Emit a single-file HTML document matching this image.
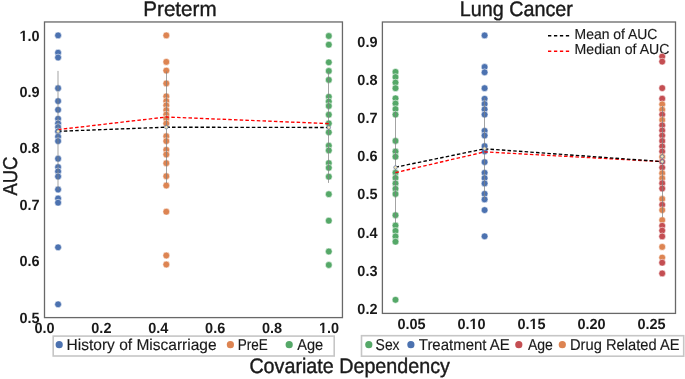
<!DOCTYPE html>
<html><head><meta charset="utf-8"><title>AUC vs Covariate Dependency</title><style>
html,body{margin:0;padding:0;background:#fff;width:685px;height:379px;overflow:hidden}
svg{display:block;font-family:"Liberation Sans", sans-serif;will-change:transform;text-rendering:geometricPrecision}
text{fill:#1a1a1a}
text.r{stroke:#1a1a1a;stroke-width:0.4px}
text.r2{stroke:#1a1a1a;stroke-width:0.15px}
</style></head><body>
<svg width="685" height="379" viewBox="0 0 685 379">
<rect x="44.5" y="21.96" width="297.95" height="295.64" fill="none" stroke="#686868" stroke-width="1.3"/>
<rect x="382.4" y="22.0" width="293.10" height="291.40" fill="none" stroke="#686868" stroke-width="1.3"/>
<line x1="548" y1="35.8" x2="569.2" y2="35.8" stroke="#000" stroke-width="1.4" stroke-dasharray="3.3 2.65"/>
<line x1="548" y1="51.3" x2="569.2" y2="51.3" stroke="#ff0000" stroke-width="1.4" stroke-dasharray="3.3 2.65"/>
<text x="574.6" y="38.9" font-size="14.5" textLength="82.8" lengthAdjust="spacingAndGlyphs" class="r2">Mean of AUC</text>
<text x="574.6" y="54.3" font-size="14.5" textLength="94.8" lengthAdjust="spacingAndGlyphs" class="r2">Median of AUC</text>
<circle cx="58.1" cy="35.4" r="3.4" fill="#4c72b0" stroke="#fff" stroke-width="0.55"/><circle cx="58.1" cy="52.7" r="3.4" fill="#4c72b0" stroke="#fff" stroke-width="0.55"/><circle cx="58.1" cy="57.5" r="3.4" fill="#4c72b0" stroke="#fff" stroke-width="0.55"/><circle cx="58.1" cy="88.2" r="3.4" fill="#4c72b0" stroke="#fff" stroke-width="0.55"/><circle cx="58.1" cy="101.1" r="3.4" fill="#4c72b0" stroke="#fff" stroke-width="0.55"/><circle cx="58.1" cy="109.8" r="3.4" fill="#4c72b0" stroke="#fff" stroke-width="0.55"/><circle cx="58.1" cy="118.8" r="3.4" fill="#4c72b0" stroke="#fff" stroke-width="0.55"/><circle cx="58.1" cy="123.4" r="3.4" fill="#4c72b0" stroke="#fff" stroke-width="0.55"/><circle cx="58.1" cy="127.1" r="3.4" fill="#4c72b0" stroke="#fff" stroke-width="0.55"/><circle cx="58.1" cy="131.4" r="3.4" fill="#4c72b0" stroke="#fff" stroke-width="0.55"/><circle cx="58.1" cy="136.7" r="3.4" fill="#4c72b0" stroke="#fff" stroke-width="0.55"/><circle cx="58.1" cy="141.1" r="3.4" fill="#4c72b0" stroke="#fff" stroke-width="0.55"/><circle cx="58.1" cy="158.7" r="3.4" fill="#4c72b0" stroke="#fff" stroke-width="0.55"/><circle cx="58.1" cy="167.1" r="3.4" fill="#4c72b0" stroke="#fff" stroke-width="0.55"/><circle cx="58.1" cy="171.4" r="3.4" fill="#4c72b0" stroke="#fff" stroke-width="0.55"/><circle cx="58.1" cy="176.5" r="3.4" fill="#4c72b0" stroke="#fff" stroke-width="0.55"/><circle cx="58.1" cy="189.5" r="3.4" fill="#4c72b0" stroke="#fff" stroke-width="0.55"/><circle cx="58.1" cy="198.5" r="3.4" fill="#4c72b0" stroke="#fff" stroke-width="0.55"/><circle cx="58.1" cy="202.7" r="3.4" fill="#4c72b0" stroke="#fff" stroke-width="0.55"/><circle cx="58.1" cy="247.3" r="3.4" fill="#4c72b0" stroke="#fff" stroke-width="0.55"/><circle cx="58.1" cy="304.3" r="3.4" fill="#4c72b0" stroke="#fff" stroke-width="0.55"/>
<circle cx="166.3" cy="35.4" r="3.4" fill="#dd8452" stroke="#fff" stroke-width="0.55"/><circle cx="166.3" cy="61.9" r="3.4" fill="#dd8452" stroke="#fff" stroke-width="0.55"/><circle cx="166.3" cy="70.6" r="3.4" fill="#dd8452" stroke="#fff" stroke-width="0.55"/><circle cx="166.3" cy="83.4" r="3.4" fill="#dd8452" stroke="#fff" stroke-width="0.55"/><circle cx="166.3" cy="96.3" r="3.4" fill="#dd8452" stroke="#fff" stroke-width="0.55"/><circle cx="166.3" cy="101.1" r="3.4" fill="#dd8452" stroke="#fff" stroke-width="0.55"/><circle cx="166.3" cy="105.3" r="3.4" fill="#dd8452" stroke="#fff" stroke-width="0.55"/><circle cx="166.3" cy="110.1" r="3.4" fill="#dd8452" stroke="#fff" stroke-width="0.55"/><circle cx="166.3" cy="114.5" r="3.4" fill="#dd8452" stroke="#fff" stroke-width="0.55"/><circle cx="166.3" cy="118.8" r="3.4" fill="#dd8452" stroke="#fff" stroke-width="0.55"/><circle cx="166.3" cy="123.5" r="3.4" fill="#dd8452" stroke="#fff" stroke-width="0.55"/><circle cx="166.3" cy="136.2" r="3.4" fill="#dd8452" stroke="#fff" stroke-width="0.55"/><circle cx="166.3" cy="141.1" r="3.4" fill="#dd8452" stroke="#fff" stroke-width="0.55"/><circle cx="166.3" cy="149.8" r="3.4" fill="#dd8452" stroke="#fff" stroke-width="0.55"/><circle cx="166.3" cy="154.5" r="3.4" fill="#dd8452" stroke="#fff" stroke-width="0.55"/><circle cx="166.3" cy="163.2" r="3.4" fill="#dd8452" stroke="#fff" stroke-width="0.55"/><circle cx="166.3" cy="176.2" r="3.4" fill="#dd8452" stroke="#fff" stroke-width="0.55"/><circle cx="166.3" cy="185.5" r="3.4" fill="#dd8452" stroke="#fff" stroke-width="0.55"/><circle cx="166.3" cy="211.7" r="3.4" fill="#dd8452" stroke="#fff" stroke-width="0.55"/><circle cx="166.3" cy="255.5" r="3.4" fill="#dd8452" stroke="#fff" stroke-width="0.55"/><circle cx="166.3" cy="264.5" r="3.4" fill="#dd8452" stroke="#fff" stroke-width="0.55"/>
<circle cx="328.8" cy="36.0" r="3.4" fill="#55a868" stroke="#fff" stroke-width="0.55"/><circle cx="328.8" cy="44.699999999999996" r="3.4" fill="#55a868" stroke="#fff" stroke-width="0.55"/><circle cx="328.8" cy="62.3" r="3.4" fill="#55a868" stroke="#fff" stroke-width="0.55"/><circle cx="328.8" cy="71.0" r="3.4" fill="#55a868" stroke="#fff" stroke-width="0.55"/><circle cx="328.8" cy="79.9" r="3.4" fill="#55a868" stroke="#fff" stroke-width="0.55"/><circle cx="328.8" cy="96.80000000000001" r="3.4" fill="#55a868" stroke="#fff" stroke-width="0.55"/><circle cx="328.8" cy="101.5" r="3.4" fill="#55a868" stroke="#fff" stroke-width="0.55"/><circle cx="328.8" cy="106.0" r="3.4" fill="#55a868" stroke="#fff" stroke-width="0.55"/><circle cx="328.8" cy="114.7" r="3.4" fill="#55a868" stroke="#fff" stroke-width="0.55"/><circle cx="328.8" cy="123.4" r="3.4" fill="#55a868" stroke="#fff" stroke-width="0.55"/><circle cx="328.8" cy="132.3" r="3.4" fill="#55a868" stroke="#fff" stroke-width="0.55"/><circle cx="328.8" cy="145.70000000000002" r="3.4" fill="#55a868" stroke="#fff" stroke-width="0.55"/><circle cx="328.8" cy="150.4" r="3.4" fill="#55a868" stroke="#fff" stroke-width="0.55"/><circle cx="328.8" cy="163.1" r="3.4" fill="#55a868" stroke="#fff" stroke-width="0.55"/><circle cx="328.8" cy="167.8" r="3.4" fill="#55a868" stroke="#fff" stroke-width="0.55"/><circle cx="328.8" cy="176.70000000000002" r="3.4" fill="#55a868" stroke="#fff" stroke-width="0.55"/><circle cx="328.8" cy="194.20000000000002" r="3.4" fill="#55a868" stroke="#fff" stroke-width="0.55"/><circle cx="328.8" cy="220.70000000000002" r="3.4" fill="#55a868" stroke="#fff" stroke-width="0.55"/><circle cx="328.8" cy="251.5" r="3.4" fill="#55a868" stroke="#fff" stroke-width="0.55"/><circle cx="328.8" cy="265.0" r="3.4" fill="#55a868" stroke="#fff" stroke-width="0.55"/>
<circle cx="395.5" cy="71.9" r="3.4" fill="#55a868" stroke="#fff" stroke-width="0.55"/><circle cx="395.5" cy="77.1" r="3.4" fill="#55a868" stroke="#fff" stroke-width="0.55"/><circle cx="395.5" cy="82.6" r="3.4" fill="#55a868" stroke="#fff" stroke-width="0.55"/><circle cx="395.5" cy="88.2" r="3.4" fill="#55a868" stroke="#fff" stroke-width="0.55"/><circle cx="395.5" cy="98.3" r="3.4" fill="#55a868" stroke="#fff" stroke-width="0.55"/><circle cx="395.5" cy="103.5" r="3.4" fill="#55a868" stroke="#fff" stroke-width="0.55"/><circle cx="395.5" cy="109.1" r="3.4" fill="#55a868" stroke="#fff" stroke-width="0.55"/><circle cx="395.5" cy="114.6" r="3.4" fill="#55a868" stroke="#fff" stroke-width="0.55"/><circle cx="395.5" cy="140.9" r="3.4" fill="#55a868" stroke="#fff" stroke-width="0.55"/><circle cx="395.5" cy="151.5" r="3.4" fill="#55a868" stroke="#fff" stroke-width="0.55"/><circle cx="395.5" cy="156.7" r="3.4" fill="#55a868" stroke="#fff" stroke-width="0.55"/><circle cx="395.5" cy="172.7" r="3.4" fill="#55a868" stroke="#fff" stroke-width="0.55"/><circle cx="395.5" cy="177.9" r="3.4" fill="#55a868" stroke="#fff" stroke-width="0.55"/><circle cx="395.5" cy="183.4" r="3.4" fill="#55a868" stroke="#fff" stroke-width="0.55"/><circle cx="395.5" cy="188.8" r="3.4" fill="#55a868" stroke="#fff" stroke-width="0.55"/><circle cx="395.5" cy="194" r="3.4" fill="#55a868" stroke="#fff" stroke-width="0.55"/><circle cx="395.5" cy="215.2" r="3.4" fill="#55a868" stroke="#fff" stroke-width="0.55"/><circle cx="395.5" cy="225.5" r="3.4" fill="#55a868" stroke="#fff" stroke-width="0.55"/><circle cx="395.5" cy="230.9" r="3.4" fill="#55a868" stroke="#fff" stroke-width="0.55"/><circle cx="395.5" cy="236.4" r="3.4" fill="#55a868" stroke="#fff" stroke-width="0.55"/><circle cx="395.5" cy="241.7" r="3.4" fill="#55a868" stroke="#fff" stroke-width="0.55"/><circle cx="395.5" cy="299.8" r="3.4" fill="#55a868" stroke="#fff" stroke-width="0.55"/>
<circle cx="484.6" cy="35.4" r="3.4" fill="#4c72b0" stroke="#fff" stroke-width="0.55"/><circle cx="484.6" cy="67" r="3.4" fill="#4c72b0" stroke="#fff" stroke-width="0.55"/><circle cx="484.6" cy="72.3" r="3.4" fill="#4c72b0" stroke="#fff" stroke-width="0.55"/><circle cx="484.6" cy="88.2" r="3.4" fill="#4c72b0" stroke="#fff" stroke-width="0.55"/><circle cx="484.6" cy="98.8" r="3.4" fill="#4c72b0" stroke="#fff" stroke-width="0.55"/><circle cx="484.6" cy="104" r="3.4" fill="#4c72b0" stroke="#fff" stroke-width="0.55"/><circle cx="484.6" cy="109.3" r="3.4" fill="#4c72b0" stroke="#fff" stroke-width="0.55"/><circle cx="484.6" cy="114.6" r="3.4" fill="#4c72b0" stroke="#fff" stroke-width="0.55"/><circle cx="484.6" cy="130.8" r="3.4" fill="#4c72b0" stroke="#fff" stroke-width="0.55"/><circle cx="484.6" cy="135.5" r="3.4" fill="#4c72b0" stroke="#fff" stroke-width="0.55"/><circle cx="484.6" cy="146.1" r="3.4" fill="#4c72b0" stroke="#fff" stroke-width="0.55"/><circle cx="484.6" cy="151.3" r="3.4" fill="#4c72b0" stroke="#fff" stroke-width="0.55"/><circle cx="484.6" cy="162.1" r="3.4" fill="#4c72b0" stroke="#fff" stroke-width="0.55"/><circle cx="484.6" cy="172.8" r="3.4" fill="#4c72b0" stroke="#fff" stroke-width="0.55"/><circle cx="484.6" cy="178.1" r="3.4" fill="#4c72b0" stroke="#fff" stroke-width="0.55"/><circle cx="484.6" cy="183.4" r="3.4" fill="#4c72b0" stroke="#fff" stroke-width="0.55"/><circle cx="484.6" cy="193.8" r="3.4" fill="#4c72b0" stroke="#fff" stroke-width="0.55"/><circle cx="484.6" cy="199.4" r="3.4" fill="#4c72b0" stroke="#fff" stroke-width="0.55"/><circle cx="484.6" cy="210.1" r="3.4" fill="#4c72b0" stroke="#fff" stroke-width="0.55"/><circle cx="484.6" cy="236.3" r="3.4" fill="#4c72b0" stroke="#fff" stroke-width="0.55"/>
<circle cx="662.2" cy="56.6" r="3.4" fill="#c44e52" stroke="#fff" stroke-width="0.55"/><circle cx="662.2" cy="61.6" r="3.4" fill="#c44e52" stroke="#fff" stroke-width="0.55"/><circle cx="662.2" cy="88.1" r="3.4" fill="#c44e52" stroke="#fff" stroke-width="0.55"/><circle cx="662.2" cy="98.7" r="3.4" fill="#c44e52" stroke="#fff" stroke-width="0.55"/><circle cx="662.2" cy="104.3" r="3.4" fill="#dd8452" stroke="#fff" stroke-width="0.55"/><circle cx="662.2" cy="109.7" r="3.4" fill="#dd8452" stroke="#fff" stroke-width="0.55"/><circle cx="662.2" cy="114.6" r="3.4" fill="#c44e52" stroke="#fff" stroke-width="0.55"/><circle cx="662.2" cy="120" r="3.4" fill="#dd8452" stroke="#fff" stroke-width="0.55"/><circle cx="662.2" cy="125.3" r="3.4" fill="#c44e52" stroke="#fff" stroke-width="0.55"/><circle cx="662.2" cy="130.5" r="3.4" fill="#c44e52" stroke="#fff" stroke-width="0.55"/><circle cx="662.2" cy="135.6" r="3.4" fill="#c44e52" stroke="#fff" stroke-width="0.55"/><circle cx="662.2" cy="141" r="3.4" fill="#c44e52" stroke="#fff" stroke-width="0.55"/><circle cx="662.2" cy="146.4" r="3.4" fill="#c44e52" stroke="#fff" stroke-width="0.55"/><circle cx="662.2" cy="151.5" r="3.4" fill="#c44e52" stroke="#fff" stroke-width="0.55"/><circle cx="662.2" cy="156.9" r="3.4" fill="#dd8452" stroke="#fff" stroke-width="0.55"/><circle cx="662.2" cy="161.8" r="3.4" fill="#c44e52" stroke="#fff" stroke-width="0.55"/><circle cx="662.2" cy="167.6" r="3.4" fill="#c44e52" stroke="#fff" stroke-width="0.55"/><circle cx="662.2" cy="173.2" r="3.4" fill="#dd8452" stroke="#fff" stroke-width="0.55"/><circle cx="662.2" cy="178.2" r="3.4" fill="#dd8452" stroke="#fff" stroke-width="0.55"/><circle cx="662.2" cy="183.2" r="3.4" fill="#c44e52" stroke="#fff" stroke-width="0.55"/><circle cx="662.2" cy="188.5" r="3.4" fill="#c44e52" stroke="#fff" stroke-width="0.55"/><circle cx="662.2" cy="199" r="3.4" fill="#dd8452" stroke="#fff" stroke-width="0.55"/><circle cx="662.2" cy="204.8" r="3.4" fill="#c44e52" stroke="#fff" stroke-width="0.55"/><circle cx="662.2" cy="210.1" r="3.4" fill="#dd8452" stroke="#fff" stroke-width="0.55"/><circle cx="662.2" cy="220.1" r="3.4" fill="#dd8452" stroke="#fff" stroke-width="0.55"/><circle cx="662.2" cy="225.8" r="3.4" fill="#c44e52" stroke="#fff" stroke-width="0.55"/><circle cx="662.2" cy="230.6" r="3.4" fill="#c44e52" stroke="#fff" stroke-width="0.55"/><circle cx="662.2" cy="236.4" r="3.4" fill="#c44e52" stroke="#fff" stroke-width="0.55"/><circle cx="662.2" cy="246.9" r="3.4" fill="#dd8452" stroke="#fff" stroke-width="0.55"/><circle cx="662.2" cy="257.6" r="3.4" fill="#dd8452" stroke="#fff" stroke-width="0.55"/><circle cx="662.2" cy="262.7" r="3.4" fill="#c44e52" stroke="#fff" stroke-width="0.55"/><circle cx="662.2" cy="273.4" r="3.4" fill="#c44e52" stroke="#fff" stroke-width="0.55"/>
<line x1="58.0" y1="70.9" x2="58.0" y2="190" stroke="#808080" stroke-opacity="0.72" stroke-width="1.0"/>
<line x1="166.5" y1="71.5" x2="166.5" y2="183" stroke="#808080" stroke-opacity="0.72" stroke-width="1.0"/>
<line x1="328.5" y1="71.7" x2="328.5" y2="182.9" stroke="#808080" stroke-opacity="0.72" stroke-width="1.0"/>
<line x1="395.5" y1="111.5" x2="395.5" y2="222.7" stroke="#808080" stroke-opacity="0.72" stroke-width="1.0"/>
<line x1="484.5" y1="97.7" x2="484.5" y2="199.7" stroke="#808080" stroke-opacity="0.72" stroke-width="1.0"/>
<line x1="662.5" y1="106" x2="662.5" y2="217.2" stroke="#808080" stroke-opacity="0.72" stroke-width="1.0"/>
<polyline points="58.1,129.6 166.3,117.0 328.8,123.6" fill="none" stroke="#ff0000" stroke-width="1.35" stroke-dasharray="3.5 2.2"/>
<polyline points="395.5,172.6 484.6,151.9 662.2,161.6" fill="none" stroke="#ff0000" stroke-width="1.35" stroke-dasharray="3.5 2.2"/>
<polyline points="58.1,131.3 166.3,127.2 328.8,127.5" fill="none" stroke="#000" stroke-width="1.35" stroke-dasharray="3.5 2.2"/>
<polyline points="395.5,167.2 484.6,148.8 662.2,161.6" fill="none" stroke="#000" stroke-width="1.35" stroke-dasharray="3.5 2.2"/>
<circle cx="58.1" cy="131.4" r="1.75" fill="#f6e7b4" stroke="#6a7ca6" stroke-width="0.8"/>
<circle cx="166.3" cy="127.2" r="1.75" fill="#f6e7b4" stroke="#6a7ca6" stroke-width="0.8"/>
<circle cx="328.8" cy="127.5" r="1.75" fill="#f6e7b4" stroke="#6a7ca6" stroke-width="0.8"/>
<circle cx="395.5" cy="167.4" r="1.75" fill="#f6e7b4" stroke="#6a7ca6" stroke-width="0.8"/>
<circle cx="484.6" cy="148.6" r="1.75" fill="#f6e7b4" stroke="#6a7ca6" stroke-width="0.8"/>
<circle cx="662.2" cy="156.5" r="1.75" fill="#f6e7b4" stroke="#6a7ca6" stroke-width="0.8"/>
<circle cx="662.2" cy="161.6" r="1.75" fill="#f6e7b4" stroke="#6a7ca6" stroke-width="0.8"/>
<text x="39.6" y="40.5" font-size="14.8" font-weight="700" text-anchor="end" textLength="20.16" lengthAdjust="spacingAndGlyphs">1.0</text>
<text x="39.6" y="96.9" font-size="14.8" font-weight="700" text-anchor="end" textLength="20.16" lengthAdjust="spacingAndGlyphs">0.9</text>
<text x="39.6" y="153.3" font-size="14.8" font-weight="700" text-anchor="end" textLength="20.16" lengthAdjust="spacingAndGlyphs">0.8</text>
<text x="39.6" y="209.7" font-size="14.8" font-weight="700" text-anchor="end" textLength="20.16" lengthAdjust="spacingAndGlyphs">0.7</text>
<text x="39.6" y="266.1" font-size="14.8" font-weight="700" text-anchor="end" textLength="20.16" lengthAdjust="spacingAndGlyphs">0.6</text>
<text x="39.6" y="322.5" font-size="14.8" font-weight="700" text-anchor="end" textLength="20.16" lengthAdjust="spacingAndGlyphs">0.5</text>
<text x="44.5" y="332.8" font-size="14.8" font-weight="700" text-anchor="middle" textLength="20.16" lengthAdjust="spacingAndGlyphs">0.0</text>
<text x="101.4" y="332.8" font-size="14.8" font-weight="700" text-anchor="middle" textLength="20.16" lengthAdjust="spacingAndGlyphs">0.2</text>
<text x="158.3" y="332.8" font-size="14.8" font-weight="700" text-anchor="middle" textLength="20.16" lengthAdjust="spacingAndGlyphs">0.4</text>
<text x="215.2" y="332.8" font-size="14.8" font-weight="700" text-anchor="middle" textLength="20.16" lengthAdjust="spacingAndGlyphs">0.6</text>
<text x="272.1" y="332.8" font-size="14.8" font-weight="700" text-anchor="middle" textLength="20.16" lengthAdjust="spacingAndGlyphs">0.8</text>
<text x="329.0" y="332.8" font-size="14.8" font-weight="700" text-anchor="middle" textLength="20.16" lengthAdjust="spacingAndGlyphs">1.0</text>
<text x="377.5" y="47.0" font-size="14.8" font-weight="700" text-anchor="end" textLength="20.16" lengthAdjust="spacingAndGlyphs">0.9</text>
<text x="377.5" y="85.1" font-size="14.8" font-weight="700" text-anchor="end" textLength="20.16" lengthAdjust="spacingAndGlyphs">0.8</text>
<text x="377.5" y="123.2" font-size="14.8" font-weight="700" text-anchor="end" textLength="20.16" lengthAdjust="spacingAndGlyphs">0.7</text>
<text x="377.5" y="161.3" font-size="14.8" font-weight="700" text-anchor="end" textLength="20.16" lengthAdjust="spacingAndGlyphs">0.6</text>
<text x="377.5" y="199.4" font-size="14.8" font-weight="700" text-anchor="end" textLength="20.16" lengthAdjust="spacingAndGlyphs">0.5</text>
<text x="377.5" y="237.5" font-size="14.8" font-weight="700" text-anchor="end" textLength="20.16" lengthAdjust="spacingAndGlyphs">0.4</text>
<text x="377.5" y="275.6" font-size="14.8" font-weight="700" text-anchor="end" textLength="20.16" lengthAdjust="spacingAndGlyphs">0.3</text>
<text x="377.5" y="313.7" font-size="14.8" font-weight="700" text-anchor="end" textLength="20.16" lengthAdjust="spacingAndGlyphs">0.2</text>
<text x="411.5" y="328.7" font-size="14.8" font-weight="700" text-anchor="middle" textLength="28.22" lengthAdjust="spacingAndGlyphs">0.05</text>
<text x="471.5" y="328.7" font-size="14.8" font-weight="700" text-anchor="middle" textLength="28.22" lengthAdjust="spacingAndGlyphs">0.10</text>
<text x="531.5" y="328.7" font-size="14.8" font-weight="700" text-anchor="middle" textLength="28.22" lengthAdjust="spacingAndGlyphs">0.15</text>
<text x="591.5" y="328.7" font-size="14.8" font-weight="700" text-anchor="middle" textLength="28.22" lengthAdjust="spacingAndGlyphs">0.20</text>
<text x="651.5" y="328.7" font-size="14.8" font-weight="700" text-anchor="middle" textLength="28.22" lengthAdjust="spacingAndGlyphs">0.25</text>
<rect x="19.66" y="38.50" width="3.17" height="2.6" fill="#fff"/>
<rect x="24.84" y="38.50" width="2.97" height="2.6" fill="#fff"/>
<rect x="319.13" y="330.80" width="3.17" height="2.6" fill="#fff"/>
<rect x="324.32" y="330.80" width="2.97" height="2.6" fill="#fff"/>
<rect x="469.70" y="326.70" width="3.17" height="2.6" fill="#fff"/>
<rect x="474.88" y="326.70" width="2.97" height="2.6" fill="#fff"/>
<rect x="529.70" y="326.70" width="3.17" height="2.6" fill="#fff"/>
<rect x="534.88" y="326.70" width="2.97" height="2.6" fill="#fff"/>
<text x="143.3" y="16.0" font-size="21" textLength="73.3" lengthAdjust="spacingAndGlyphs" class="r">Preterm</text>
<text x="459.8" y="16.0" font-size="21" textLength="113.0" lengthAdjust="spacingAndGlyphs" class="r">Lung Cancer</text>
<text x="249.4" y="372.8" font-size="21" textLength="200.5" lengthAdjust="spacingAndGlyphs" class="r">Covariate Dependency</text>
<text x="0" y="0" font-size="20" transform="translate(16.9,176.1) rotate(-90)" text-anchor="middle" textLength="39.0" lengthAdjust="spacingAndGlyphs" class="r">AUC</text>
<rect x="53.2" y="336.1" width="281" height="19.9" fill="#fff" fill-opacity="0.8" stroke="#c6c6c6" stroke-width="1.6"/>
<rect x="361.5" y="335.7" width="322.2" height="20.5" fill="#fff" fill-opacity="0.8" stroke="#c6c6c6" stroke-width="1.6"/>
<circle cx="59.2" cy="344.7" r="3.6" fill="#4c72b0"/>
<circle cx="230.4" cy="344.7" r="3.6" fill="#dd8452"/>
<circle cx="289.2" cy="344.7" r="3.6" fill="#55a868"/>
<circle cx="368.8" cy="344.7" r="3.6" fill="#55a868"/>
<circle cx="410.9" cy="344.7" r="3.6" fill="#4c72b0"/>
<circle cx="518.8" cy="344.7" r="3.6" fill="#c44e52"/>
<circle cx="562.3" cy="344.7" r="3.6" fill="#dd8452"/>
<text x="66.6" y="350.3" font-size="15.8" textLength="150.0" lengthAdjust="spacingAndGlyphs" class="r2">History of Miscarriage</text>
<text x="237.8" y="350.3" font-size="15.8" textLength="30.0" lengthAdjust="spacingAndGlyphs" class="r2">PreE</text>
<text x="297.2" y="350.3" font-size="15.8" textLength="26.0" lengthAdjust="spacingAndGlyphs" class="r2">Age</text>
<text x="375.6" y="349.8" font-size="15.8" textLength="24.0" lengthAdjust="spacingAndGlyphs" class="r2">Sex</text>
<text x="418.8" y="349.8" font-size="15.8" textLength="91.0" lengthAdjust="spacingAndGlyphs" class="r2">Treatment AE</text>
<text x="527.9" y="349.8" font-size="15.8" textLength="25.0" lengthAdjust="spacingAndGlyphs" class="r2">Age</text>
<text x="570.0" y="349.8" font-size="15.8" textLength="109.5" lengthAdjust="spacingAndGlyphs" class="r2">Drug Related AE</text>
</svg>
</body></html>
